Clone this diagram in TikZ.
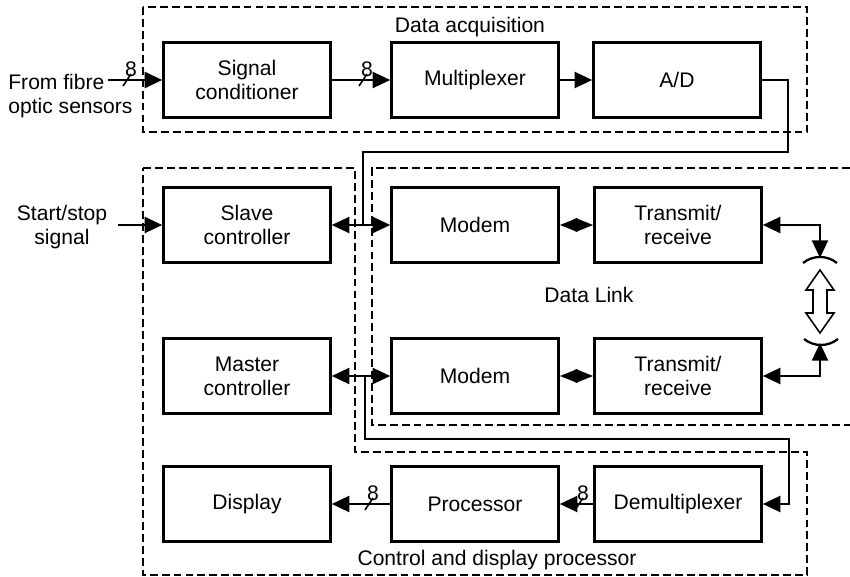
\documentclass[tikz,border=0pt]{standalone}
\usepackage{fontspec}
\setmainfont{Liberation Sans}
\usetikzlibrary{arrows.meta, positioning, calc}

\tikzset{
  blk/.style={draw, line width=1.7pt, minimum width=3.33cm, minimum height=1.5cm,
    align=center, font=\fontsize{12}{13.6}\selectfont},
  lbl/.style={align=center, font=\fontsize{12}{13.6}\selectfont, inner sep=0pt},
  grp/.style={dashed, line width=0.6pt, dash pattern=on 4.5pt off 2.3pt},
  wire/.style={line width=1.5pt},
  sig/.style={wire, -{Triangle[length=10pt,width=9pt]}},
  bidir/.style={wire, {Triangle[length=10pt,width=9pt]}-{Triangle[length=10pt,width=9pt]}},
  diam/.style={wire, {Triangle[length=10pt,width=7.5pt]}-{Triangle[length=10pt,width=7.5pt]}}
}

\begin{document}
\begin{tikzpicture}[x=0.02cm, y=-0.02cm]
\useasboundingbox (0,0) rectangle (850,577);

% Group outlines
\draw[grp] (143,7) rectangle (807,132);
\draw[grp] (850,168) -- (372,168) -- (372,425) -- (850,425);
\draw[grp] (143,168) -- (355,168) -- (355,452) -- (807,452) -- (807,575) -- (143,575) -- cycle;
\node[lbl] (daq) at (470,27) {Data acquisition};
\node[lbl] (dlink) at (589,295) {Data Link};
\node[lbl] (cdp) at (497,560) {Control and display processor};

% Blocks
\node[blk] (cond) at (247,80) {Signal\\conditioner};
\node[blk] (mux) at (475,80) {Multiplexer};
\node[blk] (adc) at (677,80) {A/D};
\node[blk] (slave) at (247,225) {Slave\\controller};
\node[blk] (modemA) at (475,225) {Modem};
\node[blk] (trA) at (678,225) {Transmit/\\receive};
\node[blk] (master) at (247,376) {Master\\controller};
\node[blk] (modemB) at (475,376) {Modem};
\node[blk] (trB) at (678,376) {Transmit/\\receive};
\node[blk] (disp) at (247,504) {Display};
\node[blk] (proc) at (475,504) {Processor};
\node[blk] (demux) at (678,504) {Demultiplexer};

% Inputs
\node[lbl, anchor=west, align=left] (fibre) at (8,96) {From fibre\\optic sensors};
\node[lbl] (start) at (62,227) {Start/stop\\signal};
\coordinate (fin) at (108,80);
\coordinate (sin) at (118,225);
\draw[sig] (fin) -- (cond.west);
\draw[sig] (sin) -- (slave.west);

% Data path
\draw[sig] (cond.east) -- (mux.west);
\draw[sig] (mux.east) -- (adc.west);
\coordinate (adA) at (788,152);
\coordinate (jA) at (363,225);
\draw[wire] (adc.east) -| (adA) -| (jA);
\draw[bidir] (slave.east) -- (modemA.west);
\draw[diam] (modemA.east) -- (trA.west);
\draw[diam] (modemB.east) -- (trB.west);
\draw[bidir] (master.east) -- (modemB.west);
\coordinate (jB) at (365,376);
\coordinate (dmA) at (789,439);
\draw[sig] (jB) |- (dmA) |- (demux.east);
\draw[sig] (demux.west) -- (proc.east);
\draw[sig] (proc.west) -- (disp.east);

% Radio link
\coordinate (dishA) at (820,258);
\coordinate (dishB) at (820,343);
\draw[bidir] (trA.east) -| (dishA);
\draw[bidir] (trB.east) -| (dishB);
\draw[line width=1.3pt] (803,263) .. controls (813,255) and (827,255) .. (837,263);
\draw[line width=1.3pt] (804,339) .. controls (814,347) and (828,347) .. (838,339);
\draw[line width=0.9pt, fill=white] (820,270) -- (834,290) -- (827,290) -- (827,313) -- (834,313)
  -- (820,333) -- (806,313) -- (813,313) -- (813,290) -- (806,290) -- cycle;

% Bus widths
\foreach \bx/\by in {127/80, 363/80, 369/504, 579/504} {
  \draw[line width=0.9pt] (\bx-4,\by+6) -- (\bx+4,\by-6);
  \node[lbl] at (\bx+4,\by-11) {8};
}
\end{tikzpicture}
\end{document}
